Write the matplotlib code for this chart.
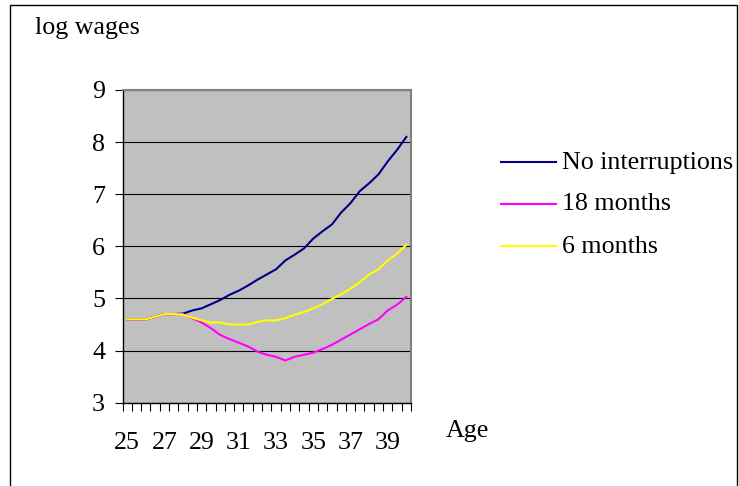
import matplotlib

matplotlib.use("Agg")
import matplotlib.pyplot as plt
import numpy as np
from matplotlib.lines import Line2D
from matplotlib.patches import Rectangle

# ages in half-year steps (category axis)
AGES = [25, 25.5, 26, 26.5, 27, 27.5, 28, 28.5, 29, 29.5, 30, 30.5, 31, 31.5, 32,
        32.5, 33, 33.5, 34, 34.5, 35, 35.5, 36, 36.5, 37, 37.5, 38, 38.5, 39, 39.5, 40]
AGE_TICKS = [25, 27, 29, 31, 33, 35, 37, 39]
AGE_LABELS = ["25", "27", "29", "31", "33", "35", "37", "39"]

NO_INTERRUPTIONS = [4.60, 4.60, 4.60, 4.65, 4.70, 4.70, 4.71, 4.77, 4.81, 4.89, 4.97,
                    5.07, 5.15, 5.25, 5.36, 5.46, 5.56, 5.73, 5.84, 5.96, 6.15, 6.29,
                    6.42, 6.65, 6.83, 7.06, 7.21, 7.38, 7.63, 7.85, 8.10]
MONTHS_18 = [4.60, 4.60, 4.60, 4.65, 4.70, 4.70, 4.70, 4.62, 4.54, 4.43, 4.30, 4.22,
             4.15, 4.08, 3.98, 3.92, 3.88, 3.81, 3.88, 3.92, 3.96, 4.03, 4.11, 4.21,
             4.31, 4.41, 4.51, 4.60, 4.77, 4.88, 5.03]
MONTHS_6 = [4.60, 4.60, 4.60, 4.65, 4.70, 4.70, 4.69, 4.63, 4.58, 4.54, 4.54, 4.50,
            4.50, 4.50, 4.55, 4.58, 4.58, 4.62, 4.69, 4.74, 4.81, 4.89, 4.99, 5.08,
            5.19, 5.31, 5.46, 5.56, 5.73, 5.86, 6.03]

SERIES = ["No interruptions", "18 months", "6 months"]
COLORS = ["#000080", "#FF00FF", "#FFFF00"]

plt.rcParams["font.family"] = ["Liberation Serif", "DejaVu Serif"]
FS = 18.7

W, H = 739, 486
fig = plt.figure(figsize=(W / 100, H / 100), dpi=100)


def fx(px):
    return px / W


def fy(py):
    return 1 - py / H


ax = fig.add_axes([fx(122.5), fy(402.7), fx(411) - fx(122.5), fy(90) - fy(402.7)])
ax.set_facecolor("#C0C0C0")

for name, vals, color in zip(SERIES, [NO_INTERRUPTIONS, MONTHS_18, MONTHS_6], COLORS):
    ax.plot(AGES, vals, color=color, lw=1.5, label=name)

ax.set_xlim(AGES[0] - 0.25, AGES[-1] + 0.25)
ax.set_ylim(3, 9)

ax.set_xticks(AGE_TICKS, AGE_LABELS)
ax.set_xticks(np.arange(AGES[0] - 0.25, AGES[-1] + 0.3, 0.5), minor=True)
ax.tick_params(axis="x", which="major", length=0, pad=21, labelsize=FS)
ax.tick_params(axis="x", which="minor", length=6, width=0.8, direction="out")
ax.set_yticks(range(3, 10))
ax.tick_params(axis="y", length=5.5, width=0.8, pad=7, labelsize=FS)

ax.yaxis.grid(True, color="black", lw=0.8)
ax.set_axisbelow(True)
for side in ("top", "right"):
    ax.spines[side].set_color("#808080")
    ax.spines[side].set_linewidth(1.5)
for side in ("left", "bottom"):
    ax.spines[side].set_color("black")
    ax.spines[side].set_linewidth(1)

fig.text(fx(35), fy(28), "log wages", fontsize=FS, ha="left", va="center")
fig.text(fx(446), fy(431), "Age", fontsize=FS, ha="left", va="center")

# legend drawn by hand to match the original spacing
for k, (name, color) in enumerate(zip(SERIES, COLORS)):
    y = 162.5 + 42 * k
    fig.add_artist(Line2D([fx(501), fx(556)], [fy(y), fy(y)], color=color, lw=1.5,
                          transform=fig.transFigure))
    fig.text(fx(562), fy(y), name, fontsize=FS, ha="left", va="center")

fig.add_artist(Rectangle((fx(10), fy(495)), fx(737) - fx(10), fy(5) - fy(495),
                         transform=fig.transFigure, fill=False, ec="black", lw=1))

fig.savefig("out.png", dpi=100)
